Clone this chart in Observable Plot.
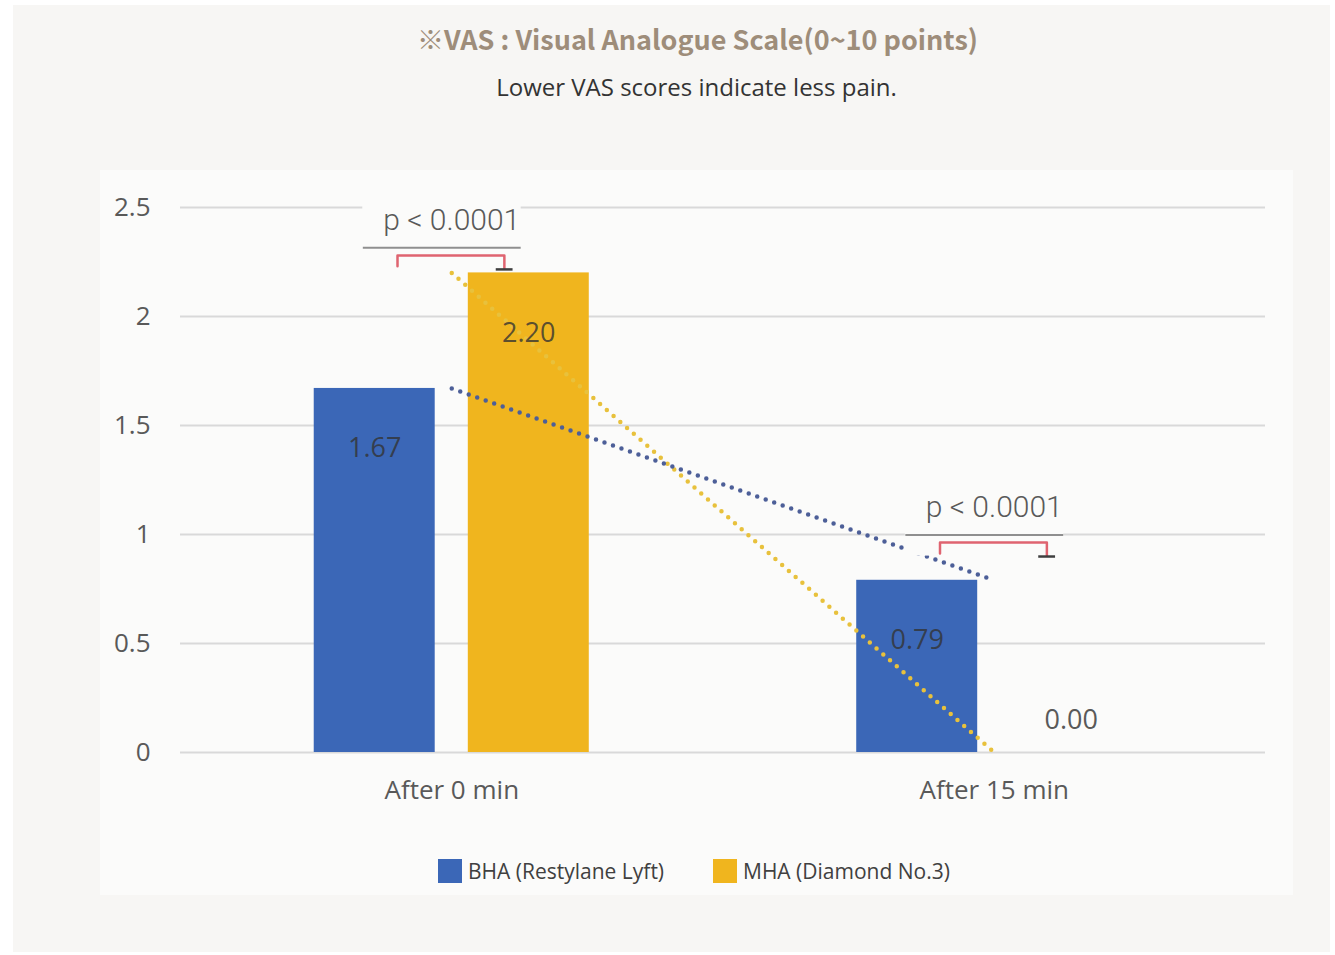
<!DOCTYPE html>
<html>
<head>
<meta charset="utf-8">
<script src="https://cdn.jsdelivr.net/npm/d3@7"></script>
<script src="https://cdn.jsdelivr.net/npm/@observablehq/plot@0.6"></script>
<style>
  html, body { margin: 0; padding: 0; background: #ffffff; }
  body { width: 1335px; height: 955px; position: relative; overflow: hidden; font-family: "Open Sans", "Noto Sans", sans-serif; }
  #panel { position: absolute; left: 13px; top: 5px; width: 1317px; height: 947px; background: #f7f6f4; }
  #title { position: absolute; left: 0; width: 1395px; top: 18px; text-align: center;
           font-family: "Noto Sans CJK KR", "Noto Sans", sans-serif;
           font-weight: bold; font-size: 27px; color: #9e8d7a; line-height: 42px; }
  #subtitle { position: absolute; left: 0; width: 1393px; top: 70px; text-align: center;
              font-size: 24px; color: #333333; line-height: 34px; }
  #box { position: absolute; left: 100px; top: 170px; width: 1193px; height: 725px; background: #fbfbfa; }
  #chart { position: absolute; left: 0; top: 0; }
  #legend { position: absolute; left: 0; top: 686px; width: 1193px; height: 30px; }
  .item { position: absolute; top: 0; display: flex; align-items: center; height: 30px; font-size: 21px; color: #404040; }
  .swatch { width: 24px; height: 24px; margin-right: 6px; }
</style>
</head>
<body>
<div id="panel"></div>
<div id="title">※VAS : Visual Analogue Scale(0~10 points)</div>
<div id="subtitle">Lower VAS scores indicate less pain.</div>
<div id="box">
  <div id="chart"></div>
  <div id="legend"></div>
</div>
<script>
// Time points and treatment groups
const times = ["After 0 min", "After 15 min"];
const series = ["BHA (Restylane Lyft)", "MHA (Diamond No.3)"];
const colors = ["#3b67b7", "#f0b51e"];
const trendColors = ["#4d5f98", "#e8c13c"];

// Mean VAS score per group at each time point
const bhaValues = [1.67, 0.79];
const mhaValues = [2.20, 0.00];

// Significance annotation for each time point
const pLabels = ["p < 0.0001", "p < 0.0001"];

// y-axis ticks
const yTicks = [0, 0.5, 1, 1.5, 2, 2.5];

// Layout (in x units where one time point = 1)
const barWidth = 0.223;
const barGap = 0.061;
const bracketLevels = [2.28, 0.963];

const valuesBySeries = [bhaValues, mhaValues];
const rows = times.flatMap((t, i) => series.map((s, k) => {
  const side = k === 0 ? -1 : 1;
  const center = i + side * (barGap / 2 + barWidth / 2);
  return {i, time: t, series: s, k, value: valuesBySeries[k][i], center};
}));

const tests = times.map((t, i) => ({i, label: pLabels[i], level: bracketLevels[i]}));
const bracketPts = tests.flatMap((d) => [
  {z: d.i, x: d.i - 0.1, y: d.level - 0.05},
  {z: d.i, x: d.i - 0.1, y: d.level},
  {z: d.i, x: d.i + 0.097, y: d.level},
  {z: d.i, x: d.i + 0.097, y: d.level - 0.06}
]);

const boxFill = "#fbfbfa";

const chart = Plot.plot({
  width: 1193,
  height: 725,
  marginLeft: 80,
  marginRight: 28,
  marginTop: 37,
  marginBottom: 143,
  style: {background: "transparent", fontFamily: "'Open Sans', 'Noto Sans', sans-serif", fontSize: "26px", color: "#595959"},
  x: {type: "linear", domain: [-0.5, 1.5]},
  y: {domain: [0, 2.5]},
  color: {domain: series, range: colors},
  marks: [
    Plot.gridY({ticks: yTicks, stroke: "#d9d9d9", strokeOpacity: 1, strokeWidth: 2}),
    Plot.rect(rows, {
      x1: (d) => d.center - barWidth / 2,
      x2: (d) => d.center + barWidth / 2,
      y1: 0,
      y2: "value",
      fill: "series"
    }),
    // linear trend lines joining each group's means
    ...series.map((s, k) => Plot.line(rows.filter((d) => d.k === k), {
      x: "i", y: "value",
      stroke: trendColors[k], strokeWidth: 4.5,
      strokeDasharray: "0 9", strokeLinecap: "round"
    })).reverse(),
    // significance brackets
    Plot.rect(tests, {
      x1: (d) => d.i - 0.164, x2: (d) => d.i + 0.128,
      y1: (d) => d.level - 0.062, y2: (d) => d.level + 0.33,
      fill: boxFill
    }),
    Plot.ruleY(tests, {
      y: (d) => d.level + 0.035,
      x1: (d) => d.i - 0.163, x2: (d) => d.i + 0.128,
      stroke: "#8f8f8f", strokeWidth: 2
    }),
    Plot.text(tests, {
      x: "i", y: (d) => d.level + 0.16, text: "label",
      fontSize: 30, fontFamily: "Roboto, 'Open Sans', sans-serif", fontWeight: 300, fill: "#595959"
    }),
    Plot.line(bracketPts, {x: "x", y: "y", z: "z", stroke: "#df6470", strokeWidth: 2.5}),
    Plot.ruleY(tests, {
      y: (d) => d.level - 0.064,
      x1: (d) => d.i + 0.082, x2: (d) => d.i + 0.113,
      stroke: "#3f3f3f", strokeWidth: 2.5
    }),
    // value labels
    Plot.text(rows.filter((d) => d.value > 0), {
      x: "center", y: "value", text: (d) => d.value.toFixed(2),
      dy: 60, fontSize: 27, fill: "#333333", fillOpacity: 0.8
    }),
    Plot.text(rows.filter((d) => d.value === 0), {
      x: "center", y: "value", text: (d) => d.value.toFixed(2),
      dy: -32, fontSize: 27, fill: "#595959"
    }),
    Plot.axisX({ticks: [0, 1], tickFormat: (i) => times[i], tickSize: 0, tickPadding: 28, label: null}),
    Plot.axisY({ticks: yTicks, tickFormat: (d) => String(d), tickSize: 0, tickPadding: 30, label: null})
  ]
});
document.getElementById("chart").appendChild(chart);

// Legend
const legend = document.getElementById("legend");
const legendLeft = [338, 613];
series.forEach((s, k) => {
  const item = document.createElement("div");
  item.className = "item";
  item.style.left = legendLeft[k] + "px";
  const sw = document.createElement("span");
  sw.className = "swatch";
  sw.style.background = colors[k];
  const label = document.createElement("span");
  label.textContent = s;
  item.appendChild(sw);
  item.appendChild(label);
  legend.appendChild(item);
});
</script>
</body>
</html>
